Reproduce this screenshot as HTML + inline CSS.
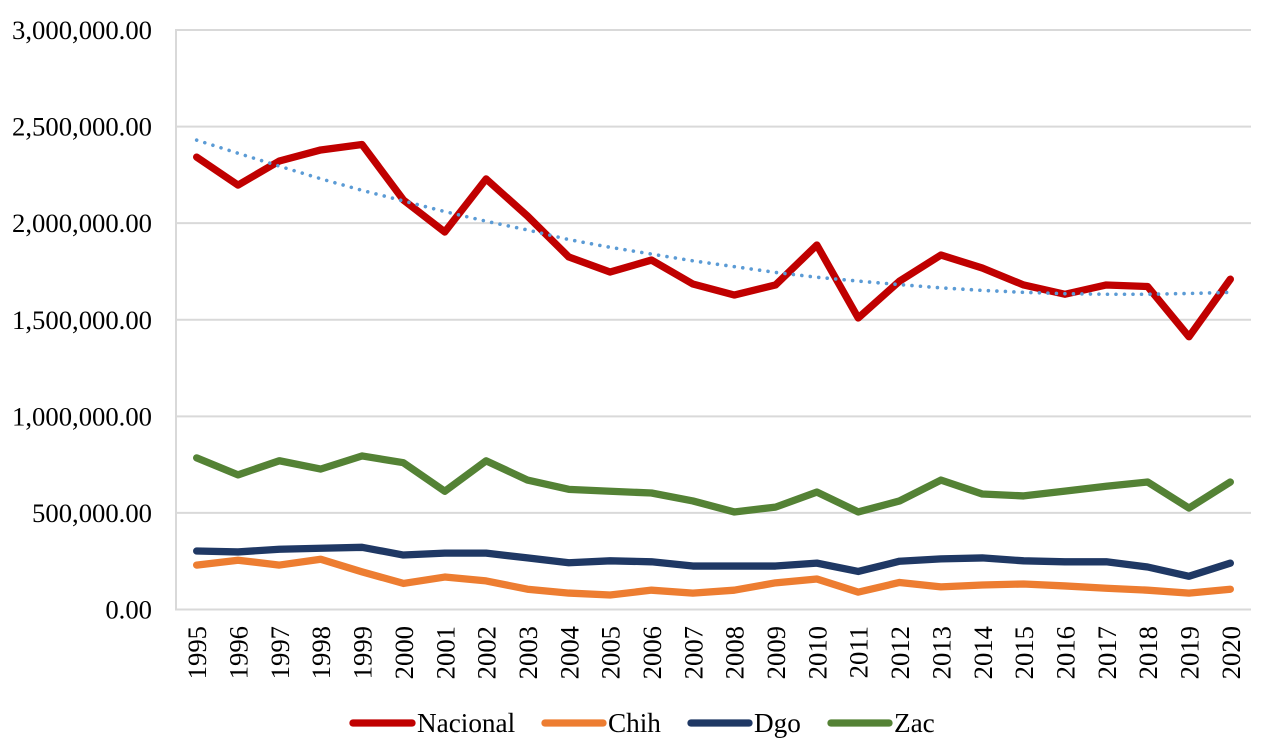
<!DOCTYPE html>
<html lang="es">
<head>
<meta charset="utf-8">
<title>Serie 1995-2020: Nacional, Chih, Dgo, Zac</title>
<style>
html,body{margin:0;padding:0;background:#fff;}
body{width:1261px;height:746px;overflow:hidden;}
svg{display:block;}
text{font-family:"Liberation Serif",serif;font-size:26.67px;fill:#000;}
</style>
</head>
<body>
<svg id="chart" width="1261" height="746" viewBox="0 0 1261 746" xmlns="http://www.w3.org/2000/svg"></svg>
<script>
const categories = ['1995','1996','1997','1998','1999','2000','2001','2002','2003','2004','2005','2006','2007','2008','2009','2010','2011','2012','2013','2014','2015','2016','2017','2018','2019','2020'];
const yTicks = [0,500000,1000000,1500000,2000000,2500000,3000000];
const yTickLabels = ['0.00','500,000.00','1,000,000.00','1,500,000.00','2,000,000.00','2,500,000.00','3,000,000.00'];
const nacional = [2342000,2197000,2322000,2379000,2407000,2120000,1954000,2229000,2037000,1825000,1747000,1809000,1685000,1628000,1680000,1887000,1509000,1700000,1835000,1768000,1680000,1632000,1680000,1672000,1412000,1710000];
const chih = [230000,255000,230000,260000,195000,135000,168000,148000,105000,85000,75000,100000,85000,100000,138000,158000,90000,140000,117000,127000,132000,122000,110000,100000,85000,105000];
const dgo = [303000,298000,312000,317000,322000,282000,292000,292000,267000,242000,252000,247000,225000,225000,225000,240000,197000,250000,262000,267000,252000,247000,247000,220000,172000,240000];
const zac = [785000,697000,770000,727000,795000,760000,612000,770000,670000,622000,612000,603000,562000,505000,530000,608000,505000,562000,670000,598000,588000,613000,638000,660000,525000,660000];
const nacionalTrend = [2430000,2362000,2295000,2230000,2170000,2115000,2060000,2010000,1965000,1915000,1875000,1840000,1805000,1775000,1745000,1720000,1700000,1682000,1665000,1652000,1642000,1635000,1632000,1632000,1636000,1642000];

const NS = 'http://www.w3.org/2000/svg';
const svg = document.getElementById('chart');
const plot = {left:176, right:1251, top:30, bottom:609.5};
const yMax = 3000000;

function xScale(i){
  return plot.left + (i + 0.5) * (plot.right - plot.left) / categories.length;
}
function yScale(v){
  return plot.bottom - (v / yMax) * (plot.bottom - plot.top);
}
function make(tag, attrs, parent){
  const el = document.createElementNS(NS, tag);
  for (const k in attrs) el.setAttribute(k, attrs[k]);
  (parent || svg).appendChild(el);
  return el;
}
function pathFor(values){
  return values.map((v,i) => (i ? 'L' : 'M') + xScale(i).toFixed(2) + ' ' + yScale(v).toFixed(2)).join(' ');
}

yTicks.forEach((t,i) => {
  const line = make('line', {x1:plot.left, x2:plot.right, y1:yScale(t), y2:yScale(t), stroke:'#d9d9d9', 'stroke-width':2});
  
  
  const label = make('text', {x:152, y:yScale(t) + 9, 'text-anchor':'end'});
  label.textContent = yTickLabels[i];
  
  
});

const yAxis = make('line', {x1:plot.left, x2:plot.left, y1:plot.top - 1, y2:plot.bottom + 1, stroke:'#d9d9d9', 'stroke-width':2});



categories.forEach((c,i) => {
  const bx = xScale(i) + 9.5;
  const label = make('text', {x:bx, y:626, 'text-anchor':'end', transform:'rotate(-90 ' + bx + ' 626)'});
  label.textContent = c;
  
  
});

const lineWidth = 7.3;
const seriesZac = make('path', {d:pathFor(zac), fill:'none', stroke:'#548235', 'stroke-width':lineWidth, 'stroke-linecap':'round', 'stroke-linejoin':'round'});


const seriesDgo = make('path', {d:pathFor(dgo), fill:'none', stroke:'#1f3864', 'stroke-width':lineWidth, 'stroke-linecap':'round', 'stroke-linejoin':'round'});


const seriesChih = make('path', {d:pathFor(chih), fill:'none', stroke:'#ed7d31', 'stroke-width':lineWidth, 'stroke-linecap':'round', 'stroke-linejoin':'round'});


const seriesNacional = make('path', {d:pathFor(nacional), fill:'none', stroke:'#c00000', 'stroke-width':lineWidth, 'stroke-linecap':'round', 'stroke-linejoin':'round'});


const seriesTrend = make('path', {d:pathFor(nacionalTrend), fill:'none', stroke:'#5b9bd5', 'stroke-width':3.6, 'stroke-linecap':'round', 'stroke-dasharray':'0.01 8.5'});



const legendSwatchNacional = make('line', {x1:353, x2:412, y1:723, y2:723, stroke:'#c00000', 'stroke-width':lineWidth, 'stroke-linecap':'round'});


const legendTextNacional = make('text', {x:417, y:732, 'font-size':27, style:'font-size:27.2px'});
legendTextNacional.textContent = 'Nacional';



const legendSwatchChih = make('line', {x1:545, x2:603, y1:723, y2:723, stroke:'#ed7d31', 'stroke-width':lineWidth, 'stroke-linecap':'round'});


const legendTextChih = make('text', {x:608, y:732, style:'font-size:27.2px'});
legendTextChih.textContent = 'Chih';



const legendSwatchDgo = make('line', {x1:691, x2:749, y1:723, y2:723, stroke:'#1f3864', 'stroke-width':lineWidth, 'stroke-linecap':'round'});


const legendTextDgo = make('text', {x:754, y:732, style:'font-size:27.2px'});
legendTextDgo.textContent = 'Dgo';



const legendSwatchZac = make('line', {x1:831, x2:889, y1:723, y2:723, stroke:'#548235', 'stroke-width':lineWidth, 'stroke-linecap':'round'});


const legendTextZac = make('text', {x:894, y:732, style:'font-size:27.2px'});
legendTextZac.textContent = 'Zac';


</script>
</body>
</html>
